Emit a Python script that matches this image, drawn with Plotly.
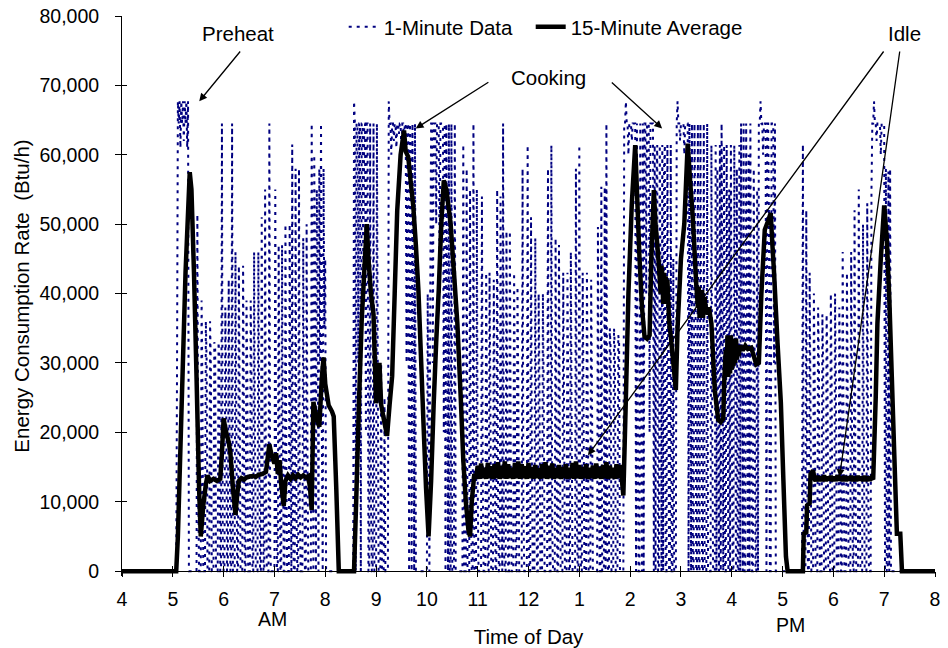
import plotly.graph_objects as go

# 1-minute data, Btu/h. Each block = (minutes after 4:00 AM where it starts, values)
early_off = (0, [0] * 65)
preheat = (65, [30000, 67700, 64500, 67700, 61000, 67700, 64500,
                67700, 62000, 67700, 64500, 67700, 61000, 67700])
after_preheat = (79, [0] * 10)
first_cycle = (89, [51400, 12000, 0, 0, 0])
idle_am_1 = (94, [39000, 26000, 0, 0, 0, 36000, 30000, 0, 0, 0, 36000, 29000, 0, 0, 0,
                  33000, 32000, 0, 0, 0, 33000, 31000, 0, 0])
idle_am_2 = (118, [64500, 4000, 0, 0, 38000, 27000, 0, 0, 42000, 20000, 0, 0, 64500, 0, 0])
idle_am_3 = (133, [0, 46000, 21000, 0, 0, 44000, 23000, 0, 0, 0, 44000, 22000, 0, 0])
idle_am_4 = (147, [39000, 28000, 0, 0, 0, 39000, 27000, 0, 0, 46000, 20000, 0, 0, 0, 46000, 21000])
idle_am_5 = (163, [0, 0, 51000, 16000, 0, 0, 55000, 12000, 0, 0, 0, 64500, 3000, 0, 0, 0, 0])
idle_am_6 = (180, [0, 55000, 12000, 0, 0, 47000, 20000, 0, 0, 47000, 19000, 0, 0, 50000, 17000,
                   0, 0, 0, 50000, 16000])
idle_am_7 = (200, [0, 61500, 5000, 0, 0, 58000, 9000, 0, 0, 58000, 8000, 0, 0, 0, 48000, 19000,
                   0, 0, 50000, 17000, 0, 0, 0, 0])
busy_745 = (224, [64500, 30000, 0, 60000, 40000, 0, 55000, 45000, 0, 58000, 30000, 64500,
                  20000, 0, 58000, 35000, 45000, 0])
off_8am = (242, [0] * 32)
cook_845 = (274, [67700, 64500, 0, 64500, 64500, 30000, 64500, 64500, 0, 64500, 64500, 40000,
                  64500, 64500, 20000, 64500])
cook_850 = (290, [64500, 0, 0, 64500, 10000, 0, 0, 64500, 0, 0, 0, 64500, 30000, 0])
lull_905 = (304, [0, 0, 30000, 0, 0, 0, 25000, 0, 0, 0, 0])
cook_915 = (315, [67700, 64500, 64500, 60000, 64500, 64500, 62000, 64500, 64500, 61000, 64500,
                  64500, 63000, 64500, 64500, 60000, 64500, 64500, 62000, 64500, 64500, 30000,
                  64500, 64500, 0, 64500, 60000, 0, 64500, 40000, 0, 64500, 0])
off_948 = (348, [0] * 13)
restart_1001 = (361, [40000, 20000, 0, 40000])
cook_1005 = (365, [64500, 64500, 30000, 64500, 64500, 64500, 50000, 64500, 64500, 64500, 40000,
                   64500, 64500, 64500, 64500, 20000, 64500, 0, 64500, 40000, 0, 64500, 0, 0,
                   64500, 0, 0, 0, 64500, 0, 0, 0, 0])
taper_1038 = (398, [0, 0, 0, 0, 0, 61500, 0, 0, 0, 58000, 0, 0, 0, 55000, 10000, 0, 0, 64500, 0, 0])
idle_midday = (418, [
    0, 55000, 12000, 0, 0,   0, 0, 54000, 13000, 0,   0, 0, 43000, 24000, 0,
    0, 43000, 25000, 0, 0,   0, 42000, 25000, 0, 0,   55000, 12000, 0, 0, 54000,
    13000, 0, 64500, 3000, 0,   0, 49000, 18000, 0, 0,   49000, 18000, 0, 0, 0,
    43000, 24000, 0, 0, 41000,   26000, 0, 0, 0, 0,   58000, 9000, 0, 0, 0,
    0, 61400, 6000, 0, 0,   51000, 16000, 0, 0, 0,   48000, 19000, 0, 0, 40000,
    27000, 0, 0, 0, 40000,   27000, 0, 0, 0, 0,   58000, 9000, 0, 0, 61400,
    6000, 0, 0, 0, 48000,   19000, 0, 0, 47000, 20000,   0, 0, 0, 43000, 24000,
    0, 0, 0, 43000, 24000,   0, 0, 46000, 21000, 0,   0, 0, 0, 58000, 9000,
    0, 0, 61400, 6000, 0,   0, 43000, 24000, 0, 0,   0, 43000, 24000, 0, 0,
    0, 42000, 25000, 0, 0,   0, 0, 0, 0, 49600,   17000, 0, 0, 55400, 0,
    0, 0, 55400, 0, 64500,   3000, 0, 0, 35000, 32000,   0, 0, 0, 35000, 32000,
    0, 0, 0, 34000, 33000,   0, 0, 0, 0, 0])
cook_153 = (593, [64500, 64500, 67700, 64500, 64500, 60000, 64500, 64500, 64500, 62000, 64500,
                  64500, 64500, 64500])
cook_207 = (607, [0, 64500, 20000, 0, 0, 64500, 30000, 0, 64500, 0])
cook_217 = (617, [64500, 64500, 40000, 64500, 64500, 64500, 20000, 64500, 64500, 64500, 64500, 0])
cook_229 = (629, [61400, 0, 55000, 61400, 0, 0, 61400, 40000, 0, 61400, 0, 58000, 61400, 0, 0,
                  61400, 30000, 0, 0, 61400, 0, 0, 45000, 0, 0, 0])
cook_255 = (655, [64500, 67700, 64500, 64500, 62000, 64500, 64500, 64500, 64500, 60000, 64500,
                  64500, 64500, 64500])
cook_309 = (669, [0, 64500, 40000, 0, 64500, 0, 0, 64500, 50000, 0, 0, 64500, 0, 0, 64500, 30000,
                  0, 0, 64500, 0, 0, 0, 64500, 0, 0, 0, 0, 61400, 20000, 0, 0, 0])
cook_341 = (701, [61400, 0, 58000, 20000, 0, 61400, 0, 64500, 40000, 0, 61400, 0, 0, 61400, 30000,
                  0, 55000, 0, 61400, 25000, 0, 0, 61400, 30000, 0, 58000, 0, 0, 61400, 0,
                  64500, 35000, 0, 64500, 0, 0, 64500, 40000, 0, 60000, 0, 64500, 20000, 0, 0,
                  58000, 30000, 0, 0, 55000])
cook_431 = (751, [0, 64500, 64500, 67700, 64500, 64500, 60000, 64500, 64500, 64500, 0, 64500,
                  64500, 50000, 0, 0, 64500, 64500, 64500, 30000, 64500])
off_452 = (772, [0] * 32)
restart_524 = (804, [61500, 0, 0, 0, 52000, 15000, 0, 0, 43000, 24000, 0, 0, 0, 40000, 27000])
idle_pm = (819, [
    0, 0, 0, 38000, 29000,   0, 0, 0, 37000, 30000,   0, 0, 0, 37000, 30000,
    0, 0, 0, 40000, 27000,   0, 0, 0, 40000, 27000,   0, 0, 0, 38000, 29000,
    0, 0, 46000, 21000, 0,   0, 0, 43000, 24000, 0,   0, 0, 46000, 21000, 0,
    0, 52000, 15000, 0, 0,   0, 55000, 12000, 0, 0,   0, 50000, 17000, 0, 0,
    0, 53000, 14000, 0, 0,   0, 55000])
cook_646 = (886, [64500, 64500, 67700, 64500, 64500, 62000, 64500, 64500, 64500, 64500, 60000,
                  64500, 64500, 64500, 64500])
taper_701 = (901, [0, 58000, 0, 0, 57600, 0, 58000, 0])
late_off = (909, [0] * 52)

# 15-minute average, (minutes after 4:00 AM, Btu/h)
avg_morning = [(0, 0), (64, 0), (66, 5000), (70, 22000), (75, 43000), (80, 57500), (82, 55000),
               (85, 43000), (88, 28000), (91, 12000), (93, 5000), (96, 9500), (99, 12500),
               (101, 13800), (104, 13000), (108, 13300), (112, 13000), (116, 13300), (118, 17000),
               (120, 22000), (122, 20500), (126, 18600), (128, 17000), (131, 12000), (134, 8100),
               (136, 11000), (138, 13000), (141, 13400), (144, 13200), (147, 13500), (150, 13600),
               (154, 13700), (158, 13600), (162, 13900), (166, 14000), (170, 14300), (174, 18300),
               (177, 16500), (180, 15500), (182, 17000), (184, 14000), (186, 16000), (188, 12500),
               (191, 9400), (193, 13000), (196, 13800), (199, 13300), (202, 13800), (205, 13400),
               (208, 13900), (211, 13500), (214, 13800), (217, 13500), (220, 13700), (222, 12000),
               (224, 8800), (226, 24400), (229, 22500), (233, 20800), (236, 28000), (238, 30800),
               (240, 27000), (244, 23900), (248, 23000), (250, 22300), (253, 12000), (256, 0),
               (274, 0), (277, 12000), (280, 25000), (283, 36000), (286, 43000), (289, 50000),
               (291, 45000), (294, 40000), (297, 37000), (300, 24200), (302, 27000), (304, 30000),
               (306, 24000), (309, 22000), (313, 19500), (316, 24000), (319, 28100), (322, 40000),
               (325, 52000), (329, 60000), (333, 63500), (335, 60500), (338, 59700), (341, 56000),
               (344, 52500), (347, 47000), (350, 40500), (353, 31000), (356, 21300), (359, 12000),
               (362, 5000), (365, 13000), (368, 24000), (371, 33000), (374, 40500), (377, 50000),
               (380, 56300), (383, 55000), (388, 50100), (392, 43000), (396, 35700), (400, 25000),
               (403, 16000), (406, 10000), (409, 6000), (411, 5000), (413, 10000), (416, 14000)]
avg_midday = [(418, 13300), (420, 15200), (422, 13300), (424, 15500), (426, 13400), (428, 14900),
              (430, 13300), (432, 15600), (434, 13400), (436, 15100), (438, 13300), (440, 15400),
              (442, 13400), (444, 15700), (446, 13300), (448, 15200), (450, 13400), (452, 15800),
              (454, 13300), (456, 15400), (458, 13400), (460, 14900), (462, 13300), (464, 15600),
              (466, 13400), (468, 15800), (470, 13300), (472, 15400), (474, 13400), (476, 15100),
              (478, 13300), (480, 15600), (482, 13400), (484, 15000), (486, 13300), (488, 15300),
              (490, 13400), (492, 14800), (494, 13300), (496, 15400), (498, 13400), (500, 15700),
              (502, 13300), (504, 15200), (506, 13400), (508, 15500), (510, 13300), (512, 14900),
              (514, 13400), (516, 15300), (518, 13300), (520, 15000), (522, 13400), (524, 15400),
              (526, 13300), (528, 14900), (530, 13400), (532, 15600), (534, 13300), (536, 15800),
              (538, 13400), (540, 15300), (542, 13300), (544, 15000), (546, 13400), (548, 15400),
              (550, 13300), (552, 14900), (554, 13400), (556, 15200), (558, 13300), (560, 15500),
              (562, 13400), (564, 15000), (566, 13300), (568, 15300), (570, 13400), (572, 15700),
              (574, 13300), (576, 15200), (578, 13400), (580, 14900), (582, 13300), (584, 15400),
              (586, 13400), (588, 15300), (590, 13500)]
avg_afternoon = [(592, 10900), (595, 25000), (598, 40000), (602, 53000), (606, 61400), (608, 55000),
                 (611, 45300), (614, 38000), (617, 33800), (620, 33500), (623, 34000), (625, 45000),
                 (628, 54900), (630, 50000), (632, 47200), (634, 44000), (636, 40000), (637, 44000),
                 (638, 42900), (639, 38500), (640, 43000), (641, 39000), (642, 42500), (643, 38500),
                 (644, 42000), (646, 36000), (648, 33800), (651, 30000), (654, 26100), (656, 35000),
                 (660, 45000), (664, 50100), (668, 61600), (671, 56000), (674, 51000), (678, 41500),
                 (680, 38000), (681, 41000), (682, 36500), (683, 40000), (684, 37000), (685, 40500),
                 (686, 36500), (688, 39500), (690, 37000), (693, 38000), (696, 35700), (700, 26000),
                 (704, 21800), (707, 21500), (710, 22000), (711, 27000), (713, 31900), (714, 28500),
                 (715, 34000), (716, 28000), (717, 33500), (718, 28500), (719, 34000), (720, 29000),
                 (721, 33500), (722, 29500), (723, 33000), (724, 30000), (725, 33500), (726, 30500),
                 (727, 32500), (728, 31000), (730, 32500), (733, 31800), (736, 32500), (739, 32000),
                 (743, 32200), (746, 31000), (749, 29800), (752, 30000), (755, 40000), (759, 49200),
                 (763, 50500), (766, 51600), (768, 47000), (770, 42900), (774, 33000), (778, 24200),
                 (781, 13000), (784, 2100), (786, 0)]
avg_evening = [(804, 0), (805, 5400), (808, 5600), (809, 9500), (812, 9800), (813, 14000),
               (816, 14500), (818, 13200), (819, 13000), (821, 13700), (823, 13000), (825, 13600),
               (827, 13000), (829, 13800), (831, 13000), (833, 13600), (835, 13100), (837, 13700),
               (839, 13000), (841, 13600), (843, 13000), (845, 13800), (847, 13100), (849, 13600),
               (851, 13000), (853, 13700), (855, 13000), (857, 13600), (859, 13100), (861, 13700),
               (863, 13000), (865, 13600), (867, 13000), (869, 13700), (871, 13100), (873, 13600),
               (875, 13000), (877, 13700), (879, 13000), (881, 13600), (883, 13100), (885, 13500),
               (887, 13200), (890, 25000), (892, 35700), (896, 45000), (900, 52700), (903, 48000),
               (906, 39500), (909, 28000), (912, 16500), (915, 5400), (919, 5400), (921, 0), (960, 0)]

hour_ticks = list(range(4, 21))
hour_labels = ["4", "5", "6", "7", "8", "9", "10", "11", "12", "1", "2", "3", "4", "5", "6", "7", "8"]
btu_ticks = list(range(0, 80001, 10000))

blocks = [early_off, preheat, after_preheat, first_cycle, idle_am_1, idle_am_2, idle_am_3,
          idle_am_4, idle_am_5, idle_am_6, idle_am_7, busy_745, off_8am, cook_845, cook_850,
          lull_905, cook_915, off_948, restart_1001, cook_1005, taper_1038, idle_midday,
          cook_153, cook_207, cook_217, cook_229, cook_255, cook_309, cook_341, cook_431,
          off_452, restart_524, idle_pm, cook_646, taper_701, late_off]
one_min = []
for start, vals in blocks:
    assert start == len(one_min), (start, len(one_min))
    one_min += vals
assert len(one_min) == 961, len(one_min)
one_min_x = [4 + m / 60 for m in range(len(one_min))]

avg_pts = avg_morning + avg_midday + avg_afternoon + avg_evening
avg_x = [4 + m / 60 for m, v in avg_pts]
avg_y = [v for m, v in avg_pts]

FONT = "Liberation Sans, Arial, sans-serif"
Y_LOW = -700  # small pad so the thick line at zero is not clipped
x_axis_pos = -Y_LOW / (80000 - Y_LOW)

fig = go.Figure()
fig.add_trace(go.Scatter(
    x=one_min_x, y=one_min, mode="lines", name="1-Minute Data",
    line=dict(color="#000080", width=2, dash="3px,5px", simplify=False),
    hoverinfo="skip", legendwidth=142,
))
fig.add_trace(go.Scatter(
    x=avg_x, y=avg_y, mode="lines", name="15-Minute Average",
    line=dict(color="black", width=4.5, simplify=False),
))
# empty trace so the overlay axes (inside tick marks) get drawn
fig.add_trace(go.Scatter(x=[], y=[], xaxis="x2", yaxis="y2", showlegend=False, hoverinfo="skip"))

note_font = dict(family=FONT, size=20.5, color="black")
arrow = dict(text="", showarrow=True, axref="x", ayref="y", arrowhead=2, arrowsize=1.2,
             arrowwidth=1.3, arrowcolor="black", standoff=0, startstandoff=0)
notes = [
    dict(x=6.29, y=77500, text="Preheat", showarrow=False, font=note_font),
    dict(x=12.40, y=71200, text="Cooking", showarrow=False, font=note_font),
    dict(x=19.39, y=77500, text="Idle", showarrow=False, font=note_font),
    dict(x=5.52, y=67700, ax=6.35, ay=75100, **arrow),
    dict(x=9.78, y=63800, ax=11.24, ay=70600, **arrow),
    dict(x=14.63, y=63800, ax=13.61, ay=70600, **arrow),
    dict(x=13.17, y=16700, ax=19.01, ay=75100, **arrow),
    dict(x=18.12, y=13550, ax=19.31, ay=75100, **arrow),
    dict(x=6.96, y=-0.077, yref="paper", yanchor="middle", text="AM", showarrow=False),
    dict(x=17.16, y=-0.087, yref="paper", yanchor="middle", text="PM", showarrow=False),
]

fig.update_layout(
    width=948, height=648,
    margin=dict(l=122, r=13, t=16, b=72.14, autoexpand=False),
    paper_bgcolor="white", plot_bgcolor="white",
    font=dict(family=FONT, size=19.5, color="black"),
    showlegend=True,
    legend=dict(orientation="h", x=0.2727, xanchor="left", y=0.9804, yanchor="middle",
                bgcolor="rgba(0,0,0,0)", font=dict(size=20.5), itemwidth=30),
    xaxis=dict(range=[4, 20], tickvals=hour_ticks, ticktext=hour_labels,
               ticks="outside", ticklen=5, tickcolor="black", tickwidth=1,
               showline=True, linecolor="black", linewidth=1, showgrid=False, zeroline=False,
               anchor="free", position=x_axis_pos, ticklabelstandoff=5, automargin=False,
               ticklabeloverflow="allow",
               title=dict(text="Time of Day", standoff=25, font=dict(size=20.5))),
    yaxis=dict(range=[Y_LOW, 80000], tickvals=btu_ticks, tickformat=",",
               ticks="outside", ticklen=6, tickcolor="black", tickwidth=1,
               showline=True, linecolor="black", linewidth=1, showgrid=False, zeroline=False,
               ticklabelstandoff=12, automargin=False, ticklabeloverflow="allow",
               title=dict(text="Energy Consumption Rate\u00a0 (Btu/h)", standoff=4,
                          font=dict(size=20.5))),
    xaxis2=dict(overlaying="x", range=[4, 20], tickvals=hour_ticks, ticks="inside", ticklen=5,
                tickcolor="black", showticklabels=False, showline=False, showgrid=False,
                zeroline=False, anchor="free", position=x_axis_pos, automargin=False),
    yaxis2=dict(overlaying="y", range=[Y_LOW, 80000], tickvals=btu_ticks, ticks="inside",
                ticklen=5, tickcolor="black", showticklabels=False, showline=False,
                showgrid=False, zeroline=False, anchor="x2", side="left", automargin=False),
    annotations=notes,
)

# drop the browser's default 8px body margin so the figure fills the window
fig.write_html("out.html", config={"displayModeBar": False},
               post_script="document.body.style.margin = '0';")
